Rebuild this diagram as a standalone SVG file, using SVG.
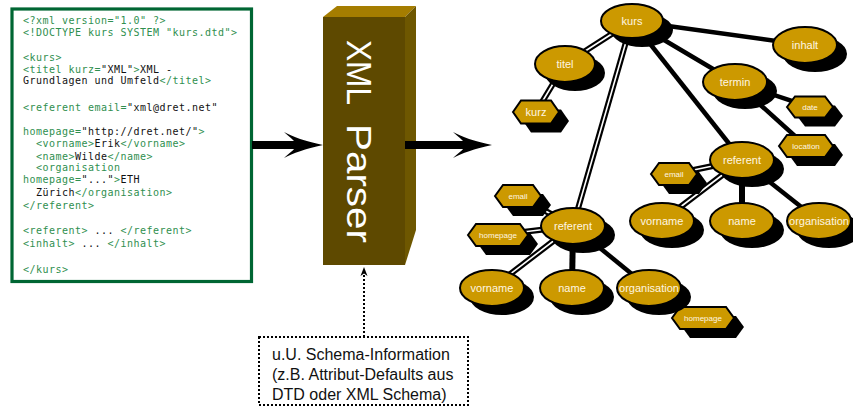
<svg xmlns="http://www.w3.org/2000/svg" width="853" height="407" viewBox="0 0 853 407">
<style>
.code{font-family:"DejaVu Sans Mono","Liberation Mono",monospace;font-size:10px;letter-spacing:0.48px;fill:#111;white-space:pre}
.g{fill:#2f8f4f}
.k{fill:#111}
.sh{fill:#000}
.nd{fill:#cc9900;stroke:#000;stroke-width:2}
.lb{font-family:"Liberation Sans",Arial,sans-serif;font-size:11px;fill:#fff6e0;text-anchor:middle}
.ls{font-family:"Liberation Sans",Arial,sans-serif;font-size:8px;fill:#fff6e0;text-anchor:middle}
.e{stroke:#000;stroke-width:4.5;fill:none}
.db{stroke:#000;stroke-width:6;fill:none}
.dw{stroke:#fff;stroke-width:1.6;fill:none}
.sc{font-family:"Liberation Sans",Arial,sans-serif;font-size:16px;fill:#111}
</style>

<g id="code">
<rect x="12" y="9" width="239.5" height="272.5" fill="#fff" stroke="#006633" stroke-width="3.2"/>
<text class="code" x="23" y="24"><tspan class="g">&lt;?xml version="1.0" ?&gt;</tspan></text>
<text class="code" x="23" y="36"><tspan class="g">&lt;!DOCTYPE kurs SYSTEM "kurs.dtd"&gt;</tspan></text>
<text class="code" x="23" y="61"><tspan class="g">&lt;kurs&gt;</tspan></text>
<text class="code" x="23" y="73"><tspan class="g">&lt;titel kurz=</tspan><tspan class="k">"XML"</tspan><tspan class="g">&gt;</tspan><tspan class="k">XML -</tspan></text>
<text class="code" x="23" y="84"><tspan class="k">Grundlagen und Umfeld</tspan><tspan class="g">&lt;/titel&gt;</tspan></text>
<text class="code" x="23" y="111"><tspan class="g">&lt;referent email=</tspan><tspan class="k">"xml@dret.net"</tspan></text>
<text class="code" x="23" y="135"><tspan class="g">homepage=</tspan><tspan class="k">"http://dret.net/"</tspan><tspan class="g">&gt;</tspan></text>
<text class="code" x="36" y="147"><tspan class="g">&lt;vorname&gt;</tspan><tspan class="k">Erik</tspan><tspan class="g">&lt;/vorname&gt;</tspan></text>
<text class="code" x="36" y="160"><tspan class="g">&lt;name&gt;</tspan><tspan class="k">Wilde</tspan><tspan class="g">&lt;/name&gt;</tspan></text>
<text class="code" x="36" y="171"><tspan class="g">&lt;organisation</tspan></text>
<text class="code" x="23" y="183"><tspan class="g">homepage=</tspan><tspan class="k">"..."</tspan><tspan class="g">&gt;</tspan><tspan class="k">ETH</tspan></text>
<text class="code" x="36" y="196"><tspan class="k">Zürich</tspan><tspan class="g">&lt;/organisation&gt;</tspan></text>
<text class="code" x="23" y="209"><tspan class="g">&lt;/referent&gt;</tspan></text>
<text class="code" x="23" y="234"><tspan class="g">&lt;referent&gt;</tspan><tspan class="k"> ... </tspan><tspan class="g">&lt;/referent&gt;</tspan></text>
<text class="code" x="23" y="247"><tspan class="g">&lt;inhalt&gt;</tspan><tspan class="k"> ... </tspan><tspan class="g">&lt;/inhalt&gt;</tspan></text>
<text class="code" x="23" y="273"><tspan class="g">&lt;/kurs&gt;</tspan></text>
</g>

<g id="parser">
<rect x="323" y="17" width="82" height="248" fill="#5e4900"/>
<polygon points="323,17 337,6 416,6 405,17" fill="#a57d00"/>
<polygon points="405,17 416,6 416,230 405,265" fill="#6e5700"/>
<g transform="translate(347,40) rotate(90)" font-family="Liberation Sans, Arial, sans-serif" font-size="35" fill="#fff">
<text x="0" y="0" textLength="65" lengthAdjust="spacingAndGlyphs">XML</text>
<text x="84" y="0" textLength="119" lengthAdjust="spacingAndGlyphs">Parser</text>
</g>
</g>

<g id="schema">
<rect x="259" y="337" width="209" height="68" fill="#fff" stroke="#000" stroke-width="2" stroke-dasharray="2,2"/>
<text class="sc" x="272" y="360">u.U. Schema-Information</text>
<text class="sc" x="272" y="380">(z.B. Attribut-Defaults aus</text>
<text class="sc" x="272" y="400">DTD oder XML Schema)</text>
</g>

<g id="connectors">
<line x1="252" y1="145" x2="302" y2="145" stroke="#000" stroke-width="8"/>
<path d="M323,145 C305,141 293,137 284,132 C291,138 296,142 297,145 C296,148 291,152 284,158 C293,153 305,149 323,145 Z" fill="#000"/>
<line x1="405" y1="145" x2="470" y2="145" stroke="#000" stroke-width="8"/>
<path d="M492,145 C474,141 462,137 453,132 C460,138 465,142 466,145 C465,148 460,152 453,158 C462,153 474,149 492,145 Z" fill="#000"/>
<line x1="364" y1="337" x2="364" y2="272" stroke="#000" stroke-width="2" stroke-dasharray="2,2"/>
<path d="M364,267 L360.5,276 L364,273.5 L367.5,276 Z" fill="#000"/>

<line class="e" x1="632" y1="21" x2="805" y2="45"/>
<line class="e" x1="632" y1="21" x2="735" y2="82"/>
<line class="e" x1="632" y1="21" x2="742" y2="160"/>
<line class="e" x1="735" y1="82" x2="810" y2="107"/>
<line class="e" x1="735" y1="82" x2="806" y2="146"/>
<line class="e" x1="742" y1="160" x2="742" y2="221" style="stroke-width:6"/>
<line class="e" x1="742" y1="160" x2="819" y2="221"/>
<line class="e" x1="573" y1="226" x2="572" y2="288" style="stroke-width:6"/>
<line class="e" x1="573" y1="226" x2="649" y2="288"/>
<line class="e" x1="649" y1="288" x2="703" y2="318"/>

<line class="db" x1="632" y1="21" x2="565" y2="64"/><line class="dw" x1="632" y1="21" x2="565" y2="64"/>
<line class="db" x1="565" y1="64" x2="536" y2="112"/><line class="dw" x1="565" y1="64" x2="536" y2="112"/>
<line class="db" x1="632" y1="21" x2="573" y2="226"/><line class="dw" x1="632" y1="21" x2="573" y2="226"/>
<line class="db" x1="573" y1="226" x2="518" y2="196"/><line class="dw" x1="573" y1="226" x2="518" y2="196"/>
<line class="db" x1="573" y1="226" x2="498" y2="235"/><line class="dw" x1="573" y1="226" x2="498" y2="235"/>
<line class="db" x1="573" y1="226" x2="492" y2="288"/><line class="dw" x1="573" y1="226" x2="492" y2="288"/>
<line class="db" x1="742" y1="160" x2="674" y2="174"/><line class="dw" x1="742" y1="160" x2="674" y2="174"/>
<line class="db" x1="742" y1="160" x2="662" y2="221"/><line class="dw" x1="742" y1="160" x2="662" y2="221"/>
</g>

<g id="kurs"><ellipse class="sh" cx="642" cy="30" rx="31" ry="17"/><ellipse class="nd" cx="632" cy="21" rx="31" ry="17"/><text class="lb" x="632" y="25">kurs</text></g>
<g id="titel"><ellipse class="sh" cx="575" cy="73" rx="30" ry="18"/><ellipse class="nd" cx="565" cy="64" rx="30" ry="18"/><text class="lb" x="565" y="68">titel</text></g>
<g id="kurz"><polygon class="sh" transform="translate(10,9)" points="513,112 521,100.5 551,100.5 559,112 551,123.5 521,123.5"/><polygon class="nd" points="513,112 521,100.5 551,100.5 559,112 551,123.5 521,123.5"/><text class="lb" x="536" y="116">kurz</text></g>
<g id="inhalt"><ellipse class="sh" cx="815" cy="54" rx="32" ry="18"/><ellipse class="nd" cx="805" cy="45" rx="32" ry="18"/><text class="lb" x="805" y="49">inhalt</text></g>
<g id="termin"><ellipse class="sh" cx="745" cy="91" rx="32" ry="18"/><ellipse class="nd" cx="735" cy="82" rx="32" ry="18"/><text class="lb" x="735" y="86">termin</text></g>
<g id="date"><polygon class="sh" transform="translate(10,9)" points="787,107 795,96.5 825,96.5 833,107 825,117.5 795,117.5"/><polygon class="nd" points="787,107 795,96.5 825,96.5 833,107 825,117.5 795,117.5"/><text class="ls" x="810" y="110">date</text></g>
<g id="location"><polygon class="sh" transform="translate(10,9)" points="779,146 787,135 825,135 833,146 825,157 787,157"/><polygon class="nd" points="779,146 787,135 825,135 833,146 825,157 787,157"/><text class="ls" x="806" y="149">location</text></g>

<g id="referent2"><ellipse class="sh" cx="752" cy="169" rx="32" ry="18"/><ellipse class="nd" cx="742" cy="160" rx="32" ry="18"/><text class="lb" x="742" y="164">referent</text></g>
<g id="email2"><polygon class="sh" transform="translate(10,9)" points="651,174 659,163 689,163 697,174 689,185 659,185"/><polygon class="nd" points="651,174 659,163 689,163 697,174 689,185 659,185"/><text class="ls" x="674" y="177">email</text></g>
<g id="vorname2"><ellipse class="sh" cx="672" cy="230" rx="32" ry="18"/><ellipse class="nd" cx="662" cy="221" rx="32" ry="18"/><text class="lb" x="662" y="225">vorname</text></g>
<g id="name2"><ellipse class="sh" cx="752" cy="230" rx="32" ry="18"/><ellipse class="nd" cx="742" cy="221" rx="32" ry="18"/><text class="lb" x="742" y="225">name</text></g>
<g id="organisation2"><ellipse class="sh" cx="829" cy="230" rx="32" ry="18"/><ellipse class="nd" cx="819" cy="221" rx="32" ry="18"/><text class="lb" x="819" y="225">organisation</text></g>

<g id="referent1"><ellipse class="sh" cx="583" cy="235" rx="32" ry="18"/><ellipse class="nd" cx="573" cy="226" rx="32" ry="18"/><text class="lb" x="573" y="230">referent</text></g>
<g id="email1"><polygon class="sh" transform="translate(10,9)" points="495,196 503,185 533,185 541,196 533,207 503,207"/><polygon class="nd" points="495,196 503,185 533,185 541,196 533,207 503,207"/><text class="ls" x="518" y="199">email</text></g>
<g id="homepage1"><polygon class="sh" transform="translate(10,9)" points="468,235 476,224 520,224 528,235 520,246 476,246"/><polygon class="nd" points="468,235 476,224 520,224 528,235 520,246 476,246"/><text class="ls" x="498" y="238">homepage</text></g>
<g id="vorname1"><ellipse class="sh" cx="502" cy="297" rx="32" ry="18"/><ellipse class="nd" cx="492" cy="288" rx="32" ry="18"/><text class="lb" x="492" y="292">vorname</text></g>
<g id="name1"><ellipse class="sh" cx="582" cy="297" rx="32" ry="18"/><ellipse class="nd" cx="572" cy="288" rx="32" ry="18"/><text class="lb" x="572" y="292">name</text></g>
<g id="homepage2"><polygon class="sh" transform="translate(10,9)" points="672,318 680,307 726,307 734,318 726,329 680,329"/><polygon class="nd" points="672,318 680,307 726,307 734,318 726,329 680,329"/><text class="ls" x="703" y="321">homepage</text></g>
<g id="organisation1"><ellipse class="sh" cx="659" cy="297" rx="32" ry="18"/><ellipse class="nd" cx="649" cy="288" rx="32" ry="18"/><text class="lb" x="649" y="292">organisation</text></g>
</svg>
